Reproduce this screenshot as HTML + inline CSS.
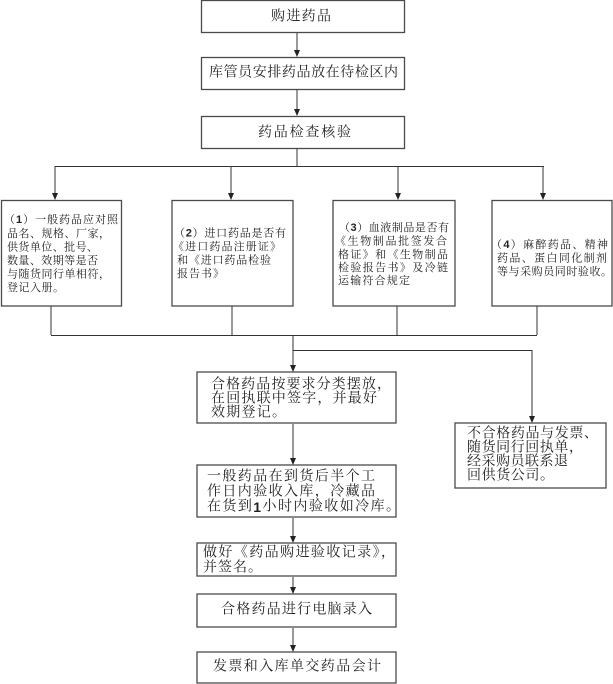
<!DOCTYPE html>
<html>
<head>
<meta charset="utf-8">
<style>
html,body{margin:0;padding:0;background:#fff;}
svg{display:block;}
text{font-family:"Liberation Serif","Noto Serif CJK SC",serif;fill:#222;dominant-baseline:central;}
.d{font-family:"Liberation Sans","Noto Sans CJK SC",sans-serif;font-weight:bold;}
.b{fill:none;stroke:#4a4a4a;stroke-width:1.3;}
.l{stroke:#333;stroke-width:1;fill:none;}
.a{fill:#222;}
.t14{font-size:14px;}
.t11{font-size:11px;}
</style>
</head>
<body>
<svg width="613" height="684" viewBox="0 0 613 684" xmlns="http://www.w3.org/2000/svg">
<!-- top boxes -->
<rect class="b" x="201.5" y="0.5" width="203" height="32"/>
<text class="t14" x="271" y="17" textLength="60" lengthAdjust="spacing">购进药品</text>
<rect class="b" x="201.5" y="57.5" width="203" height="32"/>
<text class="t14" x="209" y="73" textLength="189" lengthAdjust="spacing">库管员安排药品放在待检区内</text>
<rect class="b" x="201.5" y="116.5" width="203" height="32"/>
<text class="t14" x="258" y="133" textLength="93" lengthAdjust="spacing">药品检查核验</text>

<!-- top arrows -->
<line class="l" x1="297" y1="33" x2="297" y2="52"/>
<polygon class="a" points="297,57 294,50 300,50"/>
<line class="l" x1="297" y1="90" x2="297" y2="111"/>
<polygon class="a" points="297,116 294,109 300,109"/>
<line class="l" x1="297" y1="149" x2="297" y2="166"/>
<line class="l" x1="55" y1="166.5" x2="544" y2="166.5"/>
<line class="l" x1="55" y1="166" x2="55" y2="195"/>
<polygon class="a" points="55,200 52,193 58,193"/>
<line class="l" x1="231" y1="166" x2="231" y2="195"/>
<polygon class="a" points="231,200 228,193 234,193"/>
<line class="l" x1="398" y1="166" x2="398" y2="195"/>
<polygon class="a" points="398,200 395,193 401,193"/>
<line class="l" x1="543" y1="166" x2="543" y2="195"/>
<polygon class="a" points="543,200 540,193 546,193"/>

<!-- four boxes -->
<rect class="b" x="1.5" y="200.5" width="120" height="105.5"/>
<text class="t11" x="4" y="220" textLength="114" lengthAdjust="spacing">（<tspan class="d">1</tspan>）一般药品应对照</text>
<text class="t11" x="7" y="234" textLength="103" lengthAdjust="spacing">品名、规格、厂家，</text>
<text class="t11" x="7" y="247.5" textLength="91" lengthAdjust="spacing">供货单位、批号、</text>
<text class="t11" x="7" y="261" textLength="91" lengthAdjust="spacing">数量、效期等是否</text>
<text class="t11" x="7" y="274.5" textLength="103" lengthAdjust="spacing">与随货同行单相符，</text>
<text class="t11" x="7" y="288" textLength="57" lengthAdjust="spacing">登记入册。</text>

<rect class="b" x="172" y="200.5" width="121" height="105.5"/>
<text class="t11" x="174" y="233.5" textLength="112" lengthAdjust="spacing">（<tspan class="d">2</tspan>）进口药品是否有</text>
<text class="t11" x="173" y="247" textLength="108" lengthAdjust="spacing">《进口药品注册证》</text>
<text class="t11" x="177" y="260.5" textLength="94" lengthAdjust="spacing">和《进口药品检验</text>
<text class="t11" x="177" y="274" textLength="47" lengthAdjust="spacing">报告书》</text>

<rect class="b" x="333" y="200.5" width="122" height="105.5"/>
<text class="t11" x="339" y="228" textLength="110" lengthAdjust="spacing">（<tspan class="d">3</tspan>）血液制品是否有</text>
<text class="t11" x="335" y="241.5" textLength="112" lengthAdjust="spacing">《生物制品批签发合</text>
<text class="t11" x="338" y="255" textLength="110" lengthAdjust="spacing">格证》和《生物制品</text>
<text class="t11" x="338" y="268" textLength="110" lengthAdjust="spacing">检验报告书》及冷链</text>
<text class="t11" x="338" y="281" textLength="72" lengthAdjust="spacing">运输符合规定</text>

<rect class="b" x="492" y="200.5" width="120" height="105.5"/>
<text class="t11" x="491" y="245" textLength="117" lengthAdjust="spacing">（<tspan class="d">4</tspan>）麻醉药品、精神</text>
<text class="t11" x="497" y="258.5" textLength="110" lengthAdjust="spacing">药品、蛋白同化制剂</text>
<text class="t11" x="497" y="272" textLength="115" lengthAdjust="spacing">等与采购员同时验收。</text>

<!-- merge lines -->
<line class="l" x1="51" y1="306" x2="51" y2="335"/>
<line class="l" x1="232" y1="306" x2="232" y2="335"/>
<line class="l" x1="397" y1="306" x2="397" y2="335"/>
<line class="l" x1="537" y1="306" x2="537" y2="335"/>
<line class="l" x1="51" y1="335.5" x2="537" y2="335.5"/>
<line class="l" x1="293" y1="335" x2="293" y2="367"/>
<polygon class="a" points="293,372 290,365 296,365"/>
<line class="l" x1="293" y1="350.5" x2="532" y2="350.5"/>
<line class="l" x1="532" y1="350" x2="532" y2="418"/>
<polygon class="a" points="532,423 529,416 535,416"/>

<!-- lower boxes -->
<rect class="b" x="197" y="372" width="199" height="51"/>
<text class="t14" x="211" y="385" textLength="180" lengthAdjust="spacing">合格药品按要求分类摆放，</text>
<text class="t14" x="211" y="399" textLength="166" lengthAdjust="spacing">在回执联中签字，并最好</text>
<text class="t14" x="211" y="413" textLength="75" lengthAdjust="spacing">效期登记。</text>

<line class="l" x1="293" y1="424" x2="293" y2="460"/>
<polygon class="a" points="293,465 290,458 296,458"/>

<rect class="b" x="197" y="465" width="199" height="52"/>
<text class="t14" x="207" y="477" textLength="168" lengthAdjust="spacing">一般药品在到货后半个工</text>
<text class="t14" x="207" y="492" textLength="168" lengthAdjust="spacing">作日内验收入库，冷藏品</text>
<text class="t14" x="207" y="507" textLength="193" lengthAdjust="spacing">在货到<tspan class="d">1</tspan>小时内验收如冷库。</text>

<line class="l" x1="293" y1="518" x2="293" y2="538"/>
<polygon class="a" points="293,543 290,536 296,536"/>

<rect class="b" x="197" y="543" width="199" height="33"/>
<text class="t14" x="203" y="553" textLength="192" lengthAdjust="spacing">做好《药品购进验收记录》，</text>
<text class="t14" x="203" y="568" textLength="59" lengthAdjust="spacing">并签名。</text>

<line class="l" x1="293" y1="577" x2="293" y2="589"/>
<polygon class="a" points="293,594 290,587 296,587"/>

<rect class="b" x="197" y="594" width="199" height="33"/>
<text class="t14" x="221" y="610" textLength="151" lengthAdjust="spacing">合格药品进行电脑录入</text>

<line class="l" x1="293" y1="628" x2="293" y2="647"/>
<polygon class="a" points="293,652 290,645 296,645"/>

<rect class="b" x="197" y="652" width="199" height="31"/>
<text class="t14" x="213" y="667" textLength="168" lengthAdjust="spacing">发票和入库单交药品会计</text>

<!-- reject box -->
<rect class="b" x="455" y="423" width="151" height="65"/>
<text class="t14" x="467" y="434" textLength="131" lengthAdjust="spacing">不合格药品与发票、</text>
<text class="t14" x="467" y="448" textLength="116" lengthAdjust="spacing">随货同行回执单，</text>
<text class="t14" x="467" y="462" textLength="101" lengthAdjust="spacing">经采购员联系退</text>
<text class="t14" x="467" y="476" textLength="87" lengthAdjust="spacing">回供货公司。</text>
</svg>
</body>
</html>
